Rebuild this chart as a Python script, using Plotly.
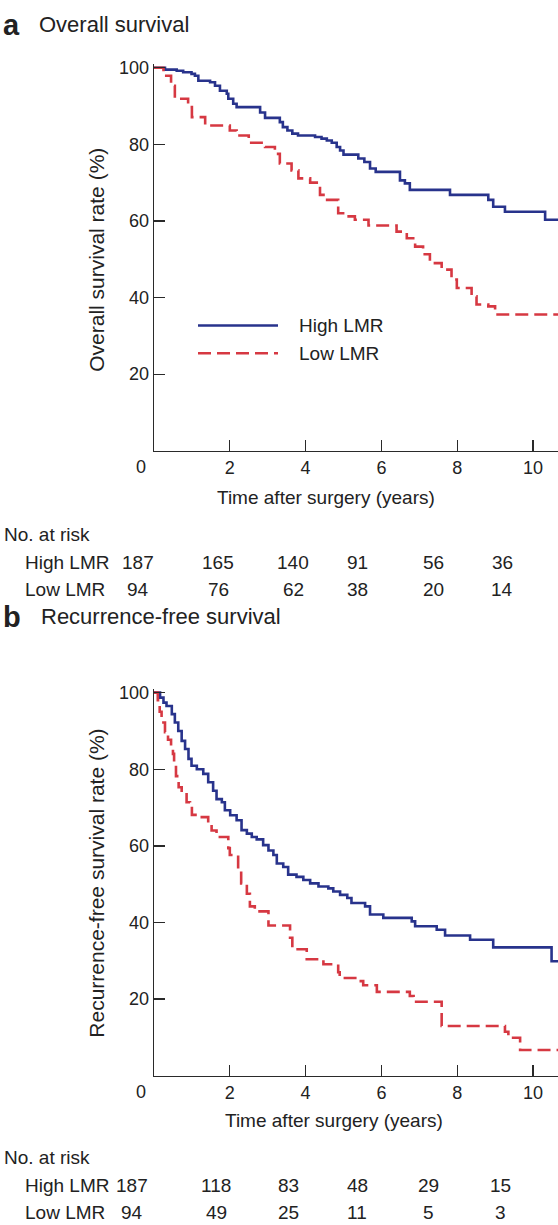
import plotly.graph_objects as go

W, H = 558, 1225

# ---------------- data ----------------
# Panel a: overall survival (step times in years, survival %)
os_high_t = [0, 0.29, 0.60, 0.77, 0.99, 1.08, 1.17, 1.48, 1.61, 1.74, 1.92, 1.96, 2.09, 2.18,
             2.80, 2.93, 3.32, 3.40, 3.52, 3.65, 3.80, 4.25, 4.42, 4.56, 4.69, 4.82, 4.91,
             5.00, 5.39, 5.55, 5.70, 5.85, 6.49, 6.62, 6.75, 7.81, 8.82, 8.95, 9.26, 10.32, 10.7]
os_high_s = [100, 99.5, 99.2, 98.8, 98.4, 97.9, 96.6, 96.2, 95.3, 94.0, 93.2, 91.9, 90.6, 89.7,
             88.3, 86.9, 85.8, 84.5, 83.6, 82.8, 82.3, 81.9, 81.5, 81.0, 80.4, 79.3, 78.4,
             77.3, 76.3, 75.4, 73.7, 72.8, 70.6, 69.8, 68.1, 66.8, 65.5, 63.7, 62.4, 60.3, 60.3]

os_low_t = [0, 0.25, 0.45, 0.55, 0.90, 1.00, 1.35, 2.00, 2.18, 2.50, 2.93, 3.19, 3.32, 3.63,
            3.81, 4.12, 4.38, 4.51, 4.86, 5.04, 5.30, 5.66, 6.40, 6.67, 6.89, 7.10, 7.28, 7.59,
            7.85, 7.99, 8.38, 8.51, 8.82, 9.00, 10.7]
os_low_s = [100, 97.9, 95.3, 91.9, 89.7, 87.1, 84.9, 83.6, 82.3, 80.4, 79.3, 77.5, 75.0, 73.2,
            71.1, 70.0, 66.8, 65.5, 62.0, 61.2, 60.3, 58.8, 57.2, 55.5, 53.3, 51.3, 49.0, 47.3,
            44.7, 42.5, 40.3, 38.2, 37.7, 35.6, 35.6]

# Panel b: recurrence-free survival
rfs_high_t = [0, 0.16, 0.25, 0.33, 0.47, 0.55, 0.64, 0.73, 0.82, 0.91, 0.99, 1.13, 1.30, 1.43,
              1.56, 1.65, 1.79, 1.87, 2.01, 2.18, 2.31, 2.45, 2.58, 2.71, 2.88, 3.02, 3.15,
              3.24, 3.41, 3.54, 3.76, 3.94, 4.12, 4.34, 4.60, 4.73, 4.91, 5.10, 5.21, 5.57,
              5.70, 6.05, 6.80, 6.89, 7.46, 7.68, 8.34, 8.95, 10.49, 10.7]
rfs_high_s = [100, 98.7, 97.4, 96.5, 94.4, 92.2, 90.0, 87.4, 85.3, 82.7, 80.9, 80.0, 78.8, 76.6,
              74.4, 72.2, 71.4, 69.3, 68.0, 66.7, 64.1, 63.2, 62.3, 61.7, 60.2, 58.8, 57.6,
              55.4, 54.5, 52.5, 51.9, 51.1, 50.2, 49.4, 48.9, 48.1, 47.2, 46.4, 45.1, 44.2,
              42.1, 41.2, 40.3, 39.0, 38.1, 36.6, 35.5, 33.5, 29.9, 29.9]

rfs_low_t = [0, 0.10, 0.15, 0.20, 0.29, 0.37, 0.45, 0.50, 0.53, 0.58, 0.65, 0.73, 0.86, 0.95,
             1.00, 1.13, 1.43, 1.52, 1.65, 1.96, 2.00, 2.22, 2.30, 2.45, 2.53, 2.66, 3.02,
             3.59, 3.65, 4.03, 4.47, 4.86, 4.90, 5.35, 5.52, 5.88, 6.75, 6.85, 7.59, 9.26,
             9.35, 9.66, 10.7]
rfs_low_s = [100, 98.0, 95.0, 92.2, 89.7, 87.7, 85.9, 84.0, 80.6, 78.2, 75.3, 73.9, 71.4, 70.5,
             68.1, 67.5, 65.7, 64.0, 62.3, 59.4, 57.6, 53.5, 50.2, 47.5, 44.2, 42.9, 39.2,
             36.0, 33.0, 30.4, 29.1, 27.0, 25.5, 24.7, 23.6, 21.9, 20.8, 19.3, 13.0, 11.5,
             9.9, 6.7, 6.7]

# Number at risk
risk_times = [0, 2, 4, 6, 8, 10]
os_risk_high = [187, 165, 140, 91, 56, 36]
os_risk_low = [94, 76, 62, 38, 20, 14]
rfs_risk_high = [187, 118, 83, 48, 29, 15]
rfs_risk_low = [94, 49, 25, 11, 5, 3]

x_ticks = [2, 4, 6, 8, 10]
y_ticks = [20, 40, 60, 80, 100]

# ---------------- layout constants ----------------
FONT = "Liberation Sans, Arial, Helvetica, sans-serif"
BLUE = "#28338c"
RED = "#d63842"
AX = "#2a2a2a"
DASH = "13px,6px"

def px(x):
    return x / W

def py(y):
    return 1 - y / H

fig = go.Figure()

def add_curve(t, s, color, dash, name, xa, ya):
    fig.add_trace(go.Scatter(
        x=t, y=s, mode="lines", line=dict(color=color, width=2.6, dash=dash, shape="hv"),
        name=name, showlegend=False, xaxis=xa, yaxis=ya, hoverinfo="skip"))

add_curve(os_high_t, os_high_s, BLUE, "solid", "High LMR", "x", "y")
add_curve(os_low_t, os_low_s, RED, DASH, "Low LMR", "x", "y")
add_curve(rfs_high_t, rfs_high_s, BLUE, "solid", "High LMR", "x2", "y2")
add_curve(rfs_low_t, rfs_low_s, RED, DASH, "Low LMR", "x2", "y2")

x_left = 154
x_range = [0, (W - x_left) / 37.9]

def xaxis(anchor):
    return dict(domain=[px(x_left), 1], range=x_range, anchor=anchor,
                showline=True, linecolor=AX, linewidth=1.3, ticks="inside", ticklen=11,
                tickwidth=1.3, tickcolor=AX, tickvals=x_ticks, showgrid=False, zeroline=False,
                tickfont=dict(size=18, color="#222", family=FONT), fixedrange=True)

def yaxis(anchor, y_top100, y_zero):
    unit = (y_zero - y_top100) / 100.0
    top = y_top100 - unit * 1.0
    return dict(domain=[py(y_zero), py(top)], range=[0, 101], anchor=anchor,
                showline=True, linecolor=AX, linewidth=1.3, ticks="inside", ticklen=11,
                tickwidth=1.3, tickcolor=AX, tickvals=y_ticks, showgrid=False, zeroline=False,
                tickfont=dict(size=18, color="#222", family=FONT), fixedrange=True)

annotations = []
shapes = []

def text(x, y, s, size=19, anchor="left", angle=0, bold=False):
    annotations.append(dict(
        x=px(x), y=py(y), xref="paper", yref="paper", text=("<b>%s</b>" % s if bold else s),
        showarrow=False, xanchor=anchor, yanchor="middle", textangle=angle,
        font=dict(size=size, color="#222", family=FONT)))

# panel labels / titles
text(1, 19, "a", size=29, bold=True)
text(37, 19, "Overall survival", size=22)
text(1, 614, "b", size=29, bold=True)
text(39, 614, "Recurrence-free survival", size=22)

# y titles
text(97, 255, "Overall survival rate (%)", size=21, anchor="center", angle=-90)
text(97, 882, "Recurrence-free survival rate (%)", size=21, anchor="center", angle=-90)

# "0" origin labels
text(141, 463, "0", size=18, anchor="center")
text(141, 1091, "0", size=18, anchor="center")

# x titles
text(326, 494, "Time after surgery (years)", size=19, anchor="center")
text(334, 1120, "Time after surgery (years)", size=19, anchor="center")

# risk tables
os_cols = [138, 218, 293, 357, 433, 502]
rfs_cols = [132, 216, 288, 357, 428, 500]

def risk_table(y0, cols, high, low):
    text(2, y0, "No. at risk", size=19)
    text(23, y0 + 28, "High LMR", size=19)
    text(23, y0 + 55, "Low LMR", size=19)
    for i, _t in enumerate(risk_times):
        text(cols[i], y0 + 28, str(high[i]), size=19, anchor="center")
        text(cols[i], y0 + 55, str(low[i]), size=19, anchor="center")

risk_table(531, os_cols, os_risk_high, os_risk_low)
risk_table(1157, rfs_cols, rfs_risk_high, rfs_risk_low)

# legend (panel a)
shapes.append(dict(type="line", xref="paper", yref="paper", x0=px(198), x1=px(278),
                   y0=py(321), y1=py(321), line=dict(color=BLUE, width=2.6)))
shapes.append(dict(type="line", xref="paper", yref="paper", x0=px(198), x1=px(278),
                   y0=py(349), y1=py(349), line=dict(color=RED, width=2.6, dash=DASH)))
text(297, 321, "High LMR", size=19)
text(297, 349, "Low LMR", size=19)

fig.update_layout(
    width=W, height=H, margin=dict(l=0, r=0, t=0, b=0),
    paper_bgcolor="white", plot_bgcolor="white",
    font=dict(family=FONT, size=18, color="#222"),
    xaxis=xaxis("y"), yaxis=yaxis("x", 62, 447),
    xaxis2=xaxis("y2"), yaxis2=yaxis("x2", 690, 1075),
    annotations=annotations, shapes=shapes, showlegend=False,
)

fig.write_html(
    "out.html",
    config={"displayModeBar": False, "staticPlot": True},
    post_script="document.body.style.margin='0';document.body.style.padding='0';"
                "document.documentElement.style.overflow='hidden';",
)
